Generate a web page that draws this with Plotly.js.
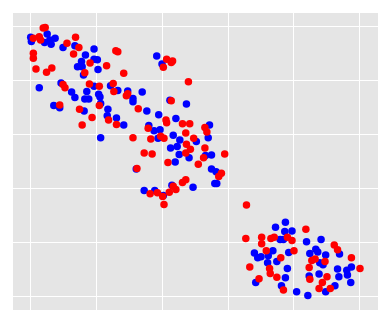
<!DOCTYPE html>
<html>
<head>
<meta charset="utf-8">
<script src="https://cdn.plot.ly/plotly-3.0.1.min.js"></script>
<style>
  html, body { margin: 0; padding: 0; background: #fff; }
  #plot { width: 391px; height: 324px; }
</style>
</head>
<body>
<div id="plot"></div>
<script>
// blue group
var blueX = [0.1, 0.2, 2.6, 2.2, 3.0, 3.8, 3.2, 5.0, 6.8, 9.7, 8.4, 7.8, 9.7, 10.2, 7.2, 7.9, 8.1, 10.3,
  1.4, 4.7, 6.3, 6.8, 8.6, 9.7, 10.4, 10.6, 8.3, 8.9, 12.2, 13.3, 14.8, 15.6, 15.6, 10.7, 11.8, 3.6, 4.5, 8.2,
  19.2, 20.0, 17.0, 21.2, 23.7, 17.7, 19.5, 11.7, 13.1, 14.2, 10.7, 18.0, 18.8, 19.7, 19.4, 22.1, 21.7, 22.7,
  21.3, 22.3, 22.6, 24.1, 22.0, 25.2, 27.2, 27.0, 26.6, 27.5, 27.5, 28.2, 28.0, 28.3, 24.7, 21.5, 17.3, 18.9,
  20.2, 16.1,
  38.7, 37.2, 38.6, 39.7, 37.9, 38.4, 41.9, 44.1, 34.0, 34.5, 35.0, 36.1, 36.8, 36.0, 37.4, 39.2, 39.0, 38.7,
  34.2, 38.1, 40.4, 42.1, 42.4, 43.3, 43.6, 44.8, 43.9, 44.4, 42.3, 43.8, 44.8, 46.2, 46.6, 46.8, 46.9, 48.0,
  48.1, 48.7, 48.6];
var blueY = [48.1, 47.3, 48.7, 47.1, 47.6, 47.9, 46.8, 46.2, 46.5, 45.9, 44.8, 43.6, 44.0, 43.9, 42.6, 42.6, 41.1, 42.1,
  38.7, 39.6, 37.9, 36.9, 38.0, 39.0, 37.5, 37.0, 36.6, 36.6, 39.1, 38.2, 38.1, 36.7, 36.1, 35.8, 34.7, 35.4, 35.0, 34.4,
  44.6, 43.1, 37.9, 36.4, 35.7, 34.4, 33.7, 33.5, 33.1, 31.8, 29.4, 31.7, 30.7, 30.9, 29.3, 33.0, 29.9, 29.0,
  27.5, 27.8, 26.3, 25.7, 24.9, 28.7, 31.8, 29.4, 26.1, 26.2, 23.6, 23.1, 20.9, 20.9, 20.2, 20.6, 19.6, 19.6,
  18.7, 23.6,
  13.7, 12.8, 12.0, 12.1, 10.5, 10.5, 10.1, 10.5, 8.0, 7.1, 7.3, 7.5, 8.4, 6.2, 6.4, 8.1, 5.1, 3.4,
  2.5, 1.9, 0.8, 0.1, 7.9, 8.7, 8.2, 7.6, 6.2, 5.8, 3.7, 4.1, 0.8, 1.9, 5.0, 3.6, 7.8, 4.8,
  3.9, 5.4, 2.5];

// red group
var redX = [2.0, 2.3, 0.5, 1.4, 1.6, 5.6, 6.9, 7.4, 6.6, 0.5, 0.5, 0.9, 2.5, 3.3, 9.1, 11.6, 13.0, 13.3,
  14.2, 8.3, 5.0, 5.3, 9.0, 10.5, 12.6, 12.7, 14.6, 14.8, 10.5, 4.5, 7.5, 20.7, 21.4, 21.6, 20.2, 24.0,
  21.4, 16.4, 20.6, 20.7, 23.1, 24.2, 17.9, 15.6, 18.3, 19.8, 20.3, 23.6, 24.8, 26.5, 26.8, 23.7, 24.3, 23.6,
  26.5, 17.3, 18.5, 26.3, 29.5, 20.9, 25.5, 16.2, 29.0, 28.6, 23.1, 23.6, 21.7, 22.1, 21.1, 18.2, 19.3, 20.1,
  20.3, 32.8, 7.9, 9.4, 11.9, 13.1,
  32.7, 35.1, 35.1, 36.5, 37.0, 39.0, 39.7, 41.8, 35.8, 38.0, 40.0, 33.3, 36.3, 36.4, 34.7, 37.4, 38.4, 46.1,
  46.6, 48.7, 50.0, 42.7, 43.2, 44.7, 42.3, 42.4, 45.0, 44.3, 43.8, 45.5];
var redY = [49.8, 49.9, 47.9, 48.2, 47.6, 47.0, 48.1, 46.2, 45.0, 45.1, 44.2, 42.2, 41.6, 42.4, 43.3, 42.8, 45.6, 45.4,
  41.4, 41.5, 39.3, 38.7, 39.4, 39.0, 39.5, 38.0, 37.2, 37.6, 35.4, 35.5, 34.7, 44.0, 43.4, 43.7, 42.5, 39.8,
  36.3, 34.8, 32.7, 32.2, 32.0, 32.0, 31.2, 29.4, 29.2, 29.7, 29.3, 30.3, 29.3, 31.3, 30.5, 28.2, 27.3, 26.6,
  27.5, 26.6, 26.4, 25.7, 26.4, 24.8, 24.5, 23.7, 22.8, 22.2, 21.1, 21.6, 20.4, 19.8, 19.3, 19.0, 19.2, 18.5,
  17.0, 16.9, 31.8, 33.2, 32.7, 31.9,
  10.7, 10.9, 9.7, 10.7, 10.9, 10.9, 10.3, 12.4, 8.4, 7.1, 8.4, 5.4, 5.1, 4.2, 3.2, 3.5, 1.1, 9.5,
  8.6, 7.1, 5.1, 6.6, 6.9, 6.4, 5.3, 3.1, 3.6, 2.5, 1.4, 1.4];

var blueTrace = {x: blueX, y: blueY, type: 'scatter', mode: 'markers',
  marker: {color: '#0000ff', size: 7.5, line: {width: 0}}, hoverinfo: 'skip'};
var redTrace = {x: redX, y: redY, type: 'scatter', mode: 'markers',
  marker: {color: '#ff0000', size: 7.5, line: {width: 0}}, hoverinfo: 'skip'};

var layout = {
  width: 391,
  height: 324,
  margin: {l: 13, r: 13, t: 13, b: 14, pad: 0},
  paper_bgcolor: '#ffffff',
  plot_bgcolor: '#e5e5e5',
  showlegend: false,
  xaxis: {
    range: [-2.58, 52.73],
    tick0: 0, dtick: 10,
    showgrid: true, gridcolor: '#ffffff', gridwidth: 1,
    zeroline: false, showline: false,
    showticklabels: false, ticks: ''
  },
  yaxis: {
    range: [-2.6, 52.6],
    tick0: 0, dtick: 10,
    showgrid: true, gridcolor: '#ffffff', gridwidth: 1,
    zeroline: false, showline: false,
    showticklabels: false, ticks: ''
  }
};

Plotly.newPlot('plot', [blueTrace, redTrace], layout, {displayModeBar: false, staticPlot: true});
</script>
</body>
</html>
